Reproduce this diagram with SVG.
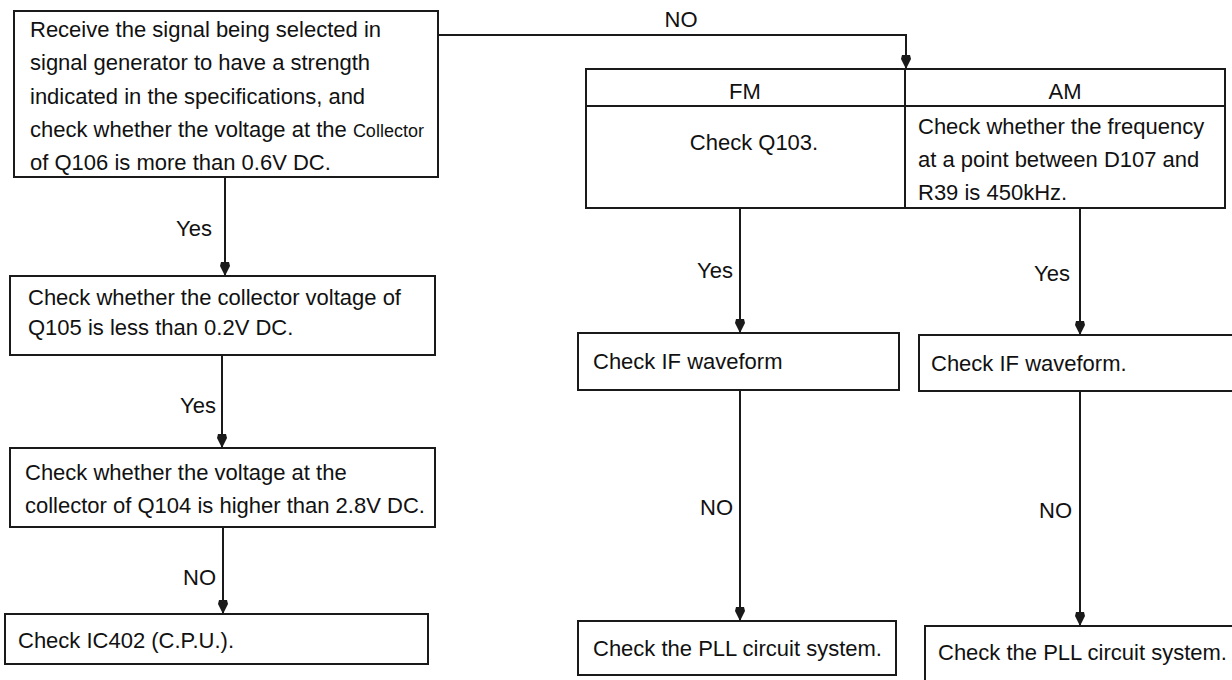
<svg xmlns="http://www.w3.org/2000/svg" width="1232" height="680" viewBox="0 0 1232 680">
<style>
.box{fill:none;stroke:#1a1a1a;stroke-width:2}
.ln{fill:none;stroke:#1a1a1a;stroke-width:2}
.t{font-family:"Liberation Sans",Arial,sans-serif;font-size:22px;fill:#111}
.s{font-size:18px}
.c{text-anchor:middle}
.r{text-anchor:end}
</style>
<defs>
<marker id="ah" viewBox="0 0 14 10" refX="14" refY="5" markerWidth="14" markerHeight="10" markerUnits="userSpaceOnUse" orient="auto">
<path d="M0,1 L4,0 L14,5 L4,10 L0,9 Z" fill="#1a1a1a"/>
</marker>
</defs>
<rect width="1232" height="680" fill="#fff"/>

<g id="connectors">
<polyline class="ln" points="438,35 906,35 906,69" marker-end="url(#ah)"/>
<line class="ln" x1="225" y1="177" x2="225" y2="276" marker-end="url(#ah)"/>
<line class="ln" x1="222" y1="355" x2="222" y2="448" marker-end="url(#ah)"/>
<line class="ln" x1="223" y1="527" x2="223" y2="614" marker-end="url(#ah)"/>
<line class="ln" x1="740" y1="207" x2="740" y2="333" marker-end="url(#ah)"/>
<line class="ln" x1="1080" y1="208" x2="1080" y2="335" marker-end="url(#ah)"/>
<line class="ln" x1="740" y1="390" x2="740" y2="621" marker-end="url(#ah)"/>
<line class="ln" x1="1080" y1="391" x2="1080" y2="626" marker-end="url(#ah)"/>
<text class="t c" x="681" y="27">NO</text>
<text class="t r" x="212" y="236">Yes</text>
<text class="t r" x="216" y="413">Yes</text>
<text class="t r" x="216" y="585">NO</text>
<text class="t r" x="733" y="278">Yes</text>
<text class="t r" x="1070" y="281">Yes</text>
<text class="t r" x="733" y="515">NO</text>
<text class="t r" x="1072" y="518">NO</text>
</g>

<g id="n1">
<rect class="box" x="14" y="11" width="424" height="166"/>
<text class="t" x="30" y="37">Receive the signal being selected in</text>
<text class="t" x="30" y="70">signal generator to have a strength</text>
<text class="t" x="30" y="104">indicated in the specifications, and</text>
<text class="t" x="30" y="137">check whether the voltage at the <tspan class="s">Collector</tspan></text>
<text class="t" x="30" y="170">of Q106 is more than 0.6V DC.</text>
</g>

<g id="n2">
<rect class="box" x="10" y="276" width="425" height="79"/>
<text class="t" x="28" y="305">Check whether the collector voltage of</text>
<text class="t" x="28" y="335">Q105 is less than 0.2V DC.</text>
</g>

<g id="n3">
<rect class="box" x="10" y="448" width="425" height="79"/>
<text class="t" x="25" y="480">Check whether the voltage at the</text>
<text class="t" x="25" y="513">collector of Q104 is higher than 2.8V DC.</text>
</g>

<g id="n4">
<rect class="box" x="5" y="614" width="423" height="50"/>
<text class="t" x="18" y="648">Check IC402 (C.P.U.).</text>
</g>

<g id="n5">
<rect class="box" x="586" y="69" width="639" height="139"/>
<line class="box" x1="586" y1="106" x2="1225" y2="106"/>
<line class="box" x1="905" y1="69" x2="905" y2="208"/>
<text class="t c" x="745" y="99">FM</text>
<text class="t c" x="1065" y="99">AM</text>
<text class="t c" x="754" y="150">Check Q103.</text>
<text class="t" x="918" y="134">Check whether the frequency</text>
<text class="t" x="918" y="167">at a point between D107  and</text>
<text class="t" x="918" y="200">R39 is 450kHz.</text>
</g>

<g id="n6">
<rect class="box" x="578" y="333" width="321" height="57"/>
<text class="t" x="593" y="369">Check IF waveform</text>
</g>

<g id="n7">
<rect class="box" x="919" y="335" width="330" height="56"/>
<text class="t" x="931" y="371">Check IF waveform.</text>
</g>

<g id="n8">
<rect class="box" x="578" y="621" width="318" height="54"/>
<text class="t" x="593" y="656">Check the PLL circuit system.</text>
</g>

<g id="n9">
<rect class="box" x="925" y="626" width="330" height="60"/>
<text class="t" x="938" y="660">Check the PLL circuit system.</text>
</g>
</svg>
